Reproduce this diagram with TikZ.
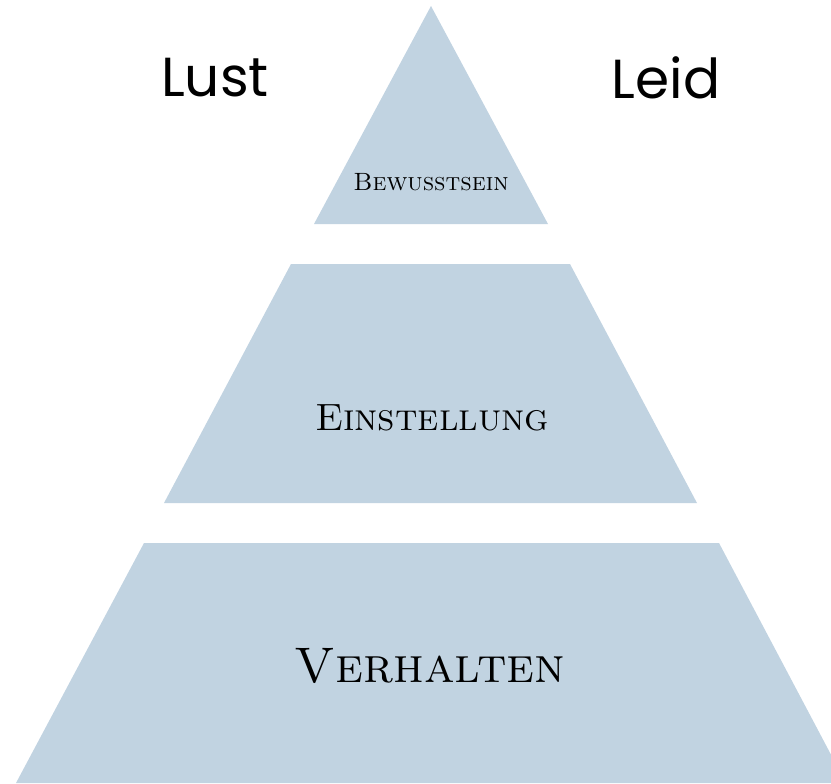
\documentclass[tikz,border=0pt]{standalone}
\usepackage{fontspec}
\newfontfamily\sidefont{Poppins}
\usetikzlibrary{positioning}
\usetikzlibrary{calc}
\definecolor{pyrblue}{RGB}{193,211,225}

\begin{document}
\begin{tikzpicture}[x=1pt, y=-1pt, every node/.style={inner sep=0pt}, band/.style={fill=pyrblue}]
			\useasboundingbox (0,0) rectangle (831,784);
			\clip (0,0) rectangle (831,784);
			\fill[band] (431,6) -- (548,224) -- (314,224) -- cycle;
			\fill[band] (291,264) -- (570,264) -- (697,503) -- (164,503) -- cycle;
			\fill[band] (144,543) -- (719,543) -- (846,783) -- (16,783) -- cycle;
			\node (bew) at (431,182) {\fontsize{25}{25}\selectfont\textsc{Bewusstsein}};
			\node (ein) at (432,418) {\fontsize{38}{38}\selectfont\textsc{Einstellung}};
			\node (ver) at (430,666) {\fontsize{50}{50}\selectfont\textsc{Verhalten}};
			\node (lust) at (215,78) {\sidefont\fontsize{55}{55}\selectfont Lust};
			\node (leid) at (666,78) {\sidefont\fontsize{55}{55}\selectfont Leid};
		\end{tikzpicture}
\end{document}
